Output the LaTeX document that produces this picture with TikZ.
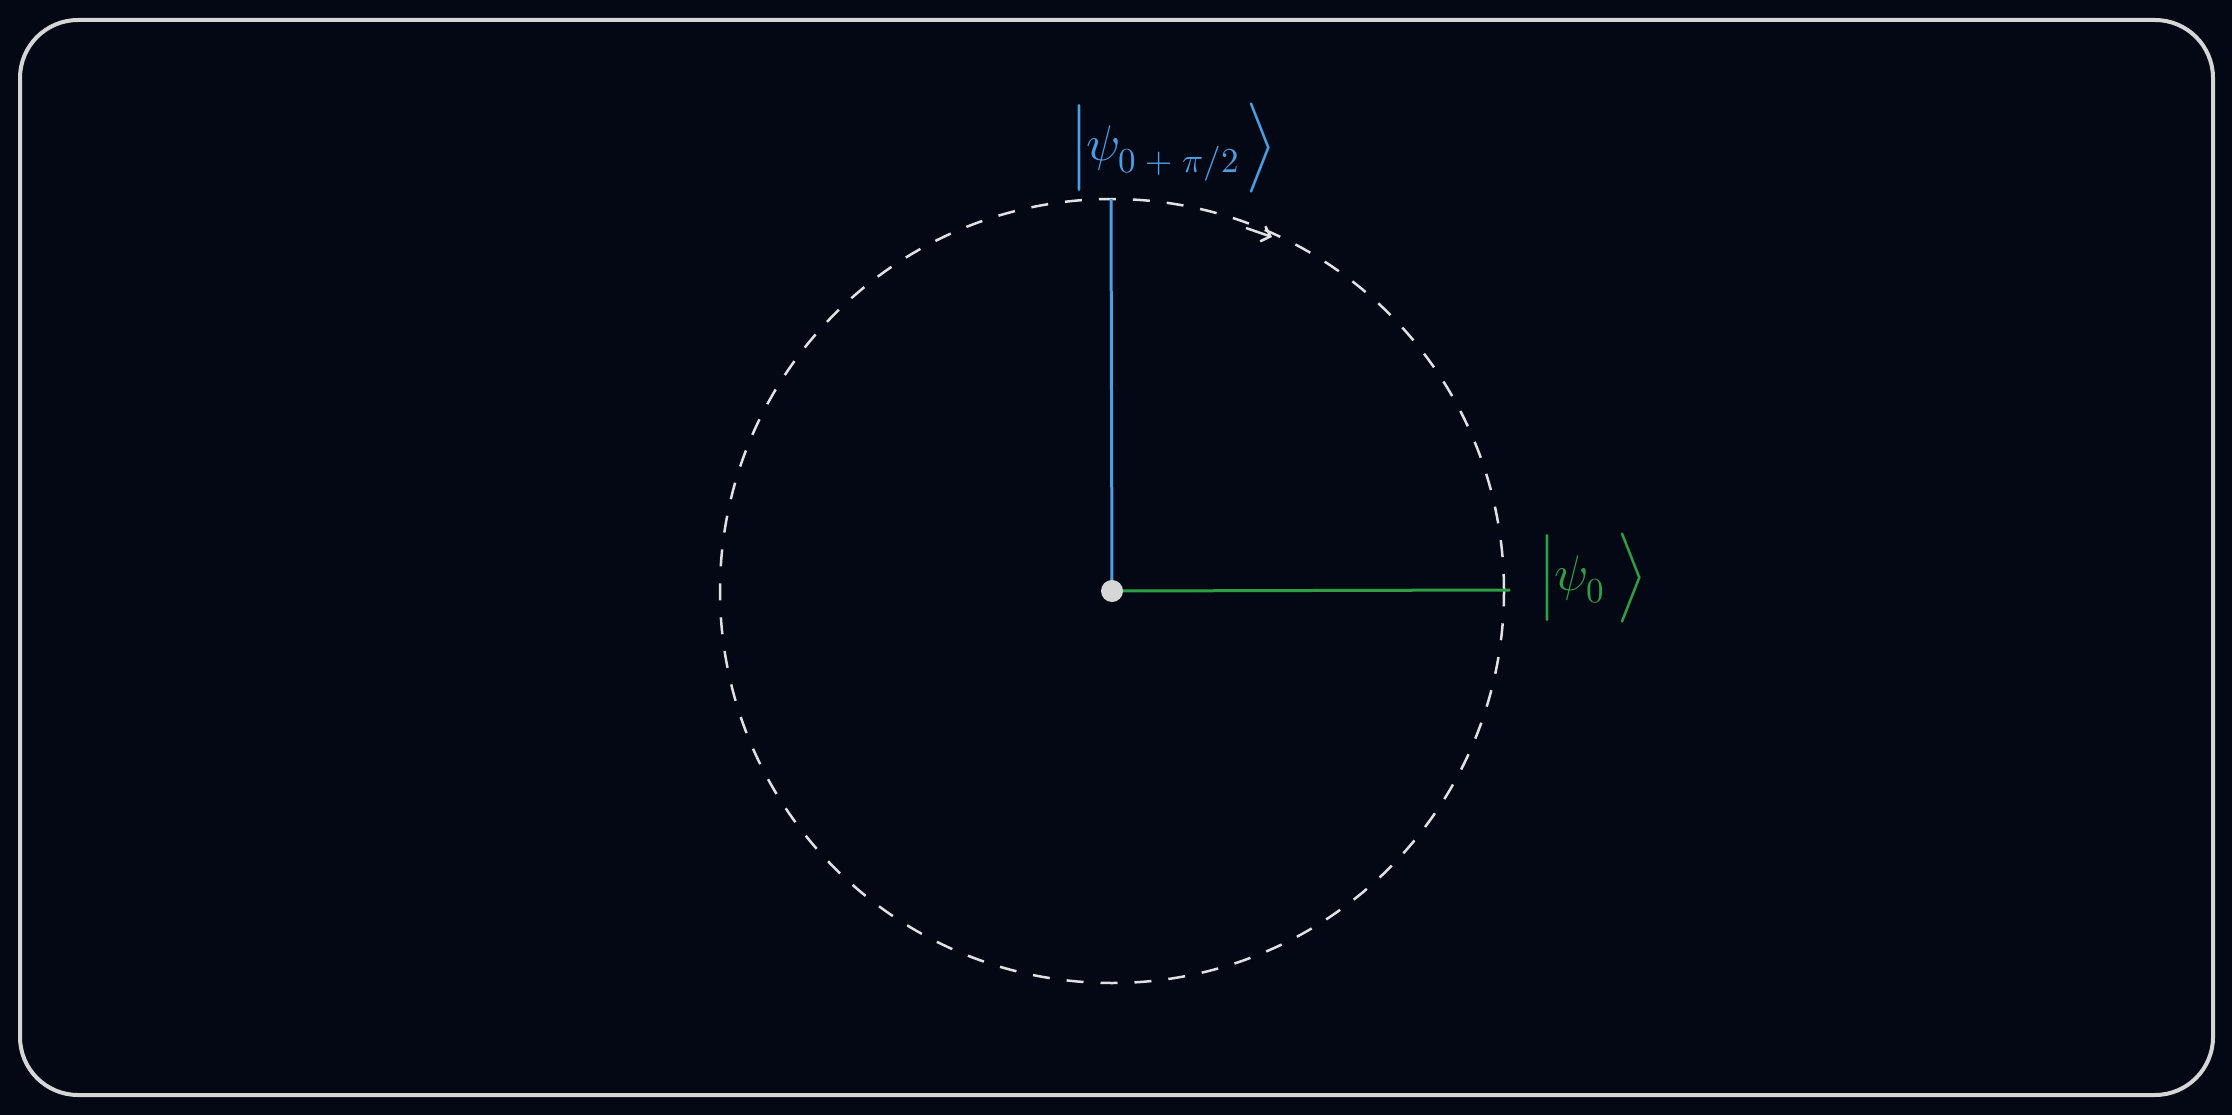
\documentclass[tikz,border=0pt]{standalone}
\usepackage{unicode-math}
\setmathfont{Latin Modern Math}
\usetikzlibrary{arrows.meta}
\definecolor{bg}{RGB}{3,8,20}
\definecolor{framecol}{RGB}{214,214,214}
\definecolor{qblue}{RGB}{74,158,228}
\definecolor{qgreen}{RGB}{47,158,68}
\definecolor{circcol}{RGB}{225,225,225}
\definecolor{dotcol}{RGB}{214,214,214}
\begin{document}
\begin{tikzpicture}[x=1pt,y=-1pt,
  ketlabel/.style={anchor=west, inner sep=0pt, font=\fontsize{50}{60}\selectfont},
  vecline/.style={line width=3pt},
  dashcircle/.style={circcol, line width=2.5pt, dash pattern=on 17pt off 17pt}]
\fill[bg] (0,0) rectangle (2232,1115);
\useasboundingbox (0,0) rectangle (2232,1115);
\draw[framecol, line width=4pt, rounded corners=58pt] (20,20) rectangle (2213,1095);
\coordinate (O) at (1112,591);
\coordinate (T) at (1111,199);
\coordinate (R) at (1510,590);
\draw[dashcircle] (O) circle[radius=392pt];
\coordinate (A1) at (1246,228);
\coordinate (A2) at (1272,237);
\draw[circcol, line width=2.5pt, -{Straight Barb[length=8pt,width=16pt]}] (A1) -- (A2);
\draw[qblue, vecline] (O) -- (T);
\draw[qgreen, vecline] (O) -- (R);
\node[circle, fill=dotcol, inner sep=0pt, minimum size=22pt] (dot) at (O) {};
\node[ketlabel, text=qgreen] (lg) at (1540,578) {$\Big|\psi_0\;\Big\rangle$};
\node[ketlabel, text=qblue] (lb) at (1072,148) {$\Big|\psi_{0\;+\;\pi/2}\,\Big\rangle$};
\end{tikzpicture}
\end{document}
